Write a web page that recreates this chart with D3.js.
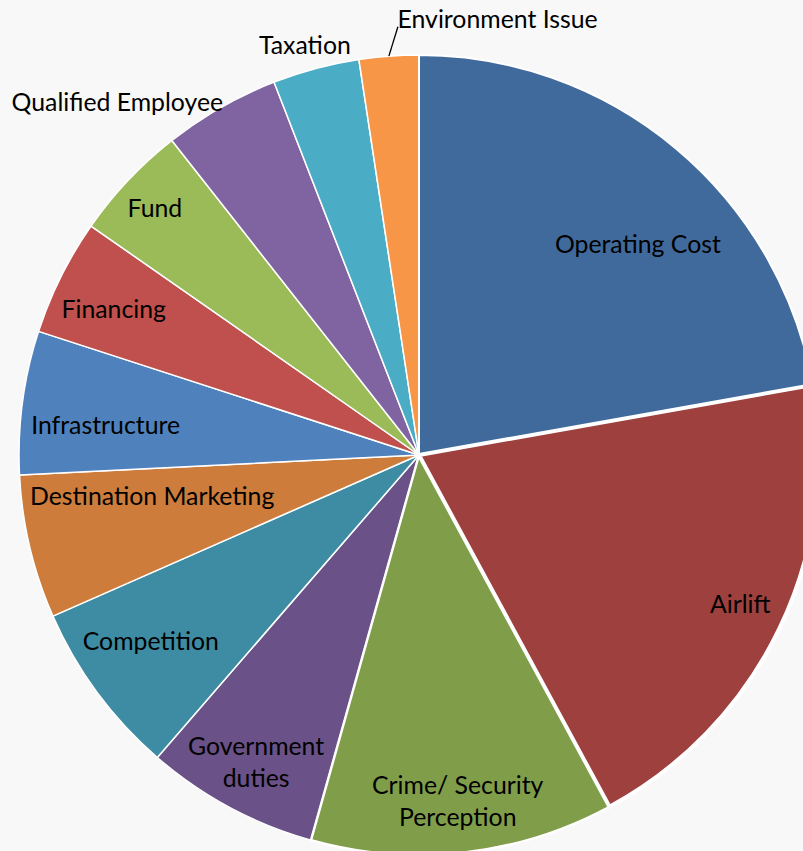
<!DOCTYPE html>
<html>
<head>
<meta charset="utf-8">
<script src="https://cdnjs.cloudflare.com/ajax/libs/d3/7.8.5/d3.min.js"></script>
<style>
  html, body { margin: 0; padding: 0; background: #f8f8f8; }
  svg { display: block; }
</style>
</head>
<body>
<svg id="chart" width="803" height="851"></svg>
<script>
// ---- data ----
const categories = [
  "Operating Cost", "Airlift", "Crime/ Security Perception", "Government duties",
  "Competition", "Destination Marketing", "Infrastructure", "Financing",
  "Fund", "Qualified Employee", "Taxation", "Environment Issue"
];
const values = [22.2, 19.9, 12.25, 7.0, 7.05, 5.8, 5.8, 4.7, 4.7, 4.7, 3.5, 2.4];
const labelLines = [
  ["Operating Cost"], ["Airlift"], ["Crime/ Security", "Perception"], ["Government", "duties"],
  ["Competition"], ["Destination Marketing"], ["Infrastructure"], ["Financing"],
  ["Fund"], ["Qualified Employee"], ["Taxation"], ["Environment Issue"]
];

// ---- style / layout ----
const colors = ["#416a9c", "#9e403e", "#809d4a", "#6a5187", "#3d8ca3", "#cd7c3b",
                "#4f81bd", "#c0504d", "#9bbb59", "#8064a2", "#4bacc6", "#f79646"];
const strokeW = [2, 4, 2.5, 1.5, 1.5, 1.5, 1.5, 1.5, 1.5, 1.5, 1.5, 1.5];
// label placement: radius fraction, angle shift (deg) from slice mid, anchor
const labelPlace = [
  {r: 0.76, da: 6.1, a: "middle"}, {r: 0.885, da: -0.9, a: "middle"},
  {r: 0.87, da: 0, a: "middle"}, {r: 0.87, da: -0.35, a: "middle"},
  {r: 0.816, da: 1.7, a: "middle"}, {r: 0.675, da: 4.5, a: "middle"},
  {r: 0.787, da: -2.1, a: "middle"}, {r: 0.846, da: -0.9, a: "middle"},
  {r: 0.904, da: -0.3, a: "middle"}, {r: 1.01, da: 0.7, a: "end"},
  {r: 1.065, da: -0.6, a: "middle"}, {r: 1.091, da: 1.5, a: "start", leader: 1.072}
];

const cx = 419, cy = 455, R = 400;
const fontSize = 24.8, lineH = 32;

const svg = d3.select("#chart");
const g = svg.append("g").attr("transform", `translate(${cx},${cy})`);

const pie = d3.pie().sort(null).value(d => d.v);
const data = categories.map((c, i) => ({c, v: values[i], i}));
const arcs = pie(data);
const arc = d3.arc().innerRadius(0).outerRadius(R);

// draw thin-bordered slices first, thick ones on top
const order = arcs.slice().sort((a, b) => strokeW[a.data.i] - strokeW[b.data.i]);
g.selectAll("path.slice").data(order).join("path")
  .attr("class", "slice")
  .attr("d", arc)
  .attr("fill", d => colors[d.data.i])
  .attr("stroke", "#ffffff")
  .attr("stroke-width", d => strokeW[d.data.i])
  .attr("stroke-linejoin", "round");

function polar(angleRad, r) {
  return [r * Math.sin(angleRad), -r * Math.cos(angleRad)];
}

arcs.forEach(d => {
  const i = d.data.i;
  const p = labelPlace[i];
  const mid = (d.startAngle + d.endAngle) / 2;
  const ang = mid + p.da * Math.PI / 180;
  const [x, y] = polar(ang, p.r * R);
  const lines = labelLines[i];
  const t = g.append("text")
    .attr("x", x).attr("y", y)
    .attr("text-anchor", p.a)
    .attr("font-family", "Lato, 'Open Sans', sans-serif")
    .attr("font-size", fontSize)
    .attr("fill", "#000");
  const y0 = -(lines.length - 1) * lineH / 2;
  lines.forEach((ln, k) => {
    t.append("tspan").attr("x", x).attr("y", y + y0 + k * lineH).attr("dy", "0.36em").text(ln);
  });
  if (p.leader) {
    const [x1, y1] = polar(mid, R);
    const [x2, y2] = polar(ang, p.leader * R);
    g.append("line").attr("x1", x1).attr("y1", y1).attr("x2", x2).attr("y2", y2)
      .attr("stroke", "#000").attr("stroke-width", 1.3);
  }
});
</script>
</body>
</html>
